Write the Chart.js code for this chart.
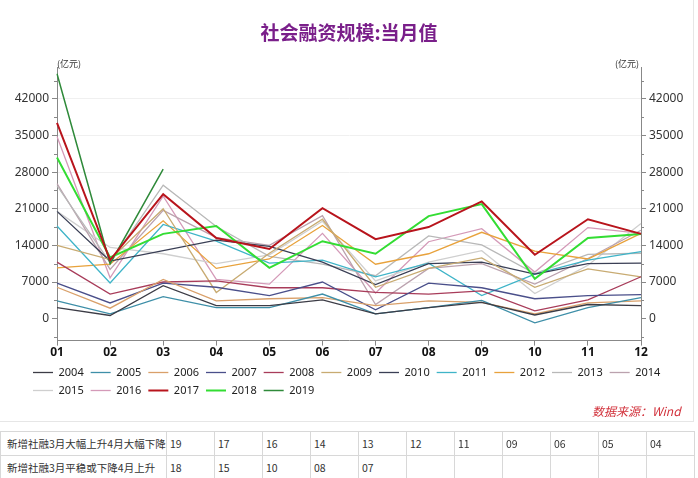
<!DOCTYPE html>
<html><head><meta charset="utf-8">
<script src="https://cdn.jsdelivr.net/npm/chart.js@4/dist/chart.umd.min.js"></script>
<style>
html,body{margin:0;padding:0;background:#fff;width:698px;height:478px;overflow:hidden;font-family:"Noto Sans CJK SC","Noto Sans",sans-serif;}
#title{position:absolute;left:0;width:698px;top:18px;text-align:center;font-size:19px;font-weight:bold;color:#7a1f8a;line-height:28px;}
#wrap{position:absolute;left:0;top:0;width:698px;height:406px;}
#src{position:absolute;left:592px;top:403px;font-size:12px;font-style:italic;color:#d2323c;line-height:16px;}
#frame{position:absolute;left:0;top:0;width:693px;height:421px;border-right:1px solid #e6e6e6;border-bottom:1px solid #e6e6e6;}
table{position:absolute;left:0;top:431px;border-collapse:collapse;table-layout:fixed;width:694px;font-size:10.5px;color:#333;}
td{border:1px solid #d8d8d8;height:23px;padding:0 0 0 3px;white-space:nowrap;overflow:hidden;line-height:23px;}
td.lab{padding-left:6px;}
</style></head><body>
<div id="frame"></div>
<div id="wrap"><canvas id="c"></canvas></div>
<div id="title">社会融资规模:当月值</div>
<div id="src">数据来源：Wind</div>
<table id="tbl"><colgroup><col style="width:166px"><col span="11" style="width:48px"></colgroup><tbody></tbody></table>
<script>
// ---- data ----
const months = ['01','02','03','04','05','06','07','08','09','10','11','12'];
const yTickValues = [-3500,0,3500,7000,10500,14000,17500,21000,24500,28000,31500,35000,38500,42000,45500];
const yTickLabels = [0,7000,14000,21000,28000,35000,42000];
const years = ['2004','2005','2006','2007','2008','2009','2010','2011','2012','2013','2014','2015','2016','2017','2018','2019'];

const v2004 = [2100, 600, 6300, 2500, 2500, 3600, 900, 2100, 3100, 700, 2700, 2500];
const v2005 = [3400, 900, 4200, 2100, 2100, 4700, 900, 2100, 3500, -800, 2100, 4000];
const v2006 = [6000, 2000, 7500, 3400, 3800, 4000, 2500, 3400, 3100, 900, 3000, 3400];
const v2007 = [6800, 3000, 6800, 6000, 4400, 7000, 1700, 6800, 5900, 3800, 4400, 4600];
const v2008 = [10800, 4700, 7000, 7200, 5900, 5900, 5000, 4700, 5300, 1500, 3600, 8000];
const v2009 = [14000, 11300, 21000, 5000, 12500, 19000, 6000, 9600, 11600, 6000, 9500, 8000];
const v2010 = [20500, 11000, 13000, 15000, 13800, 10800, 6500, 10500, 10800, 8500, 10500, 10600];
const v2011 = [17700, 6800, 18000, 14800, 10600, 11200, 8000, 10600, 4400, 8500, 11200, 12800];
const v2012 = [9700, 10400, 18700, 9600, 11400, 17800, 10400, 12400, 16500, 12900, 11400, 16300];
const v2013 = [25400, 10700, 25500, 17600, 11900, 10400, 8200, 15800, 14100, 8600, 12300, 12500];
const v2014 = [25800, 9400, 20700, 15500, 14000, 19700, 2700, 9600, 10500, 6600, 11500, 16900];
const v2015 = [20500, 13600, 12400, 10500, 12200, 18600, 7200, 10800, 13000, 4800, 10200, 18200];
const v2016 = [34800, 7800, 23400, 7500, 6600, 16300, 4900, 14700, 17200, 8900, 17400, 16300];
const v2017 = [37400, 11200, 23800, 15400, 13300, 21100, 15200, 17500, 22400, 12200, 19000, 16200];
const v2018 = [30800, 11700, 16200, 17700, 9700, 14800, 12400, 19600, 21900, 7600, 15400, 16200];
const v2019 = [46800, 10500, 28600];

const tableRow1Label = '新增社融3月大幅上升4月大幅下降';
const tableRow1 = ['19','17','16','14','13','12','11','09','06','05','04'];
const tableRow2Label = '新增社融3月平稳或下降4月上升';
const tableRow2 = ['18','15','10','08','07','','','','','',''];

// ---- styling ----
const seriesValues = [v2004,v2005,v2006,v2007,v2008,v2009,v2010,v2011,v2012,v2013,v2014,v2015,v2016,v2017,v2018,v2019];
const colors = ['#3c3c46','#3e8fa8','#d9a06a','#4a4f8a','#a83c5a','#c8ab72','#3a3f55','#3fb4c8','#e8a23c','#b8b8b8','#bba2ae','#cfcfcf','#d49ab8','#b8141c','#33dd33','#2f8a3a'];
const widths = [1.3,1.3,1.3,1.3,1.3,1.3,1.3,1.3,1.3,1.3,1.3,1.3,1.3,2,2,1.5];
const orders = [1,1,1,1,1,1,1,1,1,1,1,1,1,0,0,0];

// table
const tb = document.querySelector('#tbl tbody');
[[tableRow1Label, tableRow1],[tableRow2Label, tableRow2]].forEach(([lab, vals]) => {
  const tr = document.createElement('tr');
  const th = document.createElement('td'); th.className = 'lab'; th.textContent = lab; tr.appendChild(th);
  vals.forEach(v => { const td = document.createElement('td'); td.textContent = v; tr.appendChild(td); });
  tb.appendChild(tr);
});

const extras = {
  id: 'extras',
  afterLayout(chart) {
    if (chart.legend) { chart.legend.left += 18; }
  },
  afterDraw(chart) {
    const {ctx, chartArea: a, scales} = chart;
    ctx.save();
    ctx.strokeStyle = '#888'; ctx.lineWidth = 1;
    yTickValues.forEach(v => {
      if (yTickLabels.includes(v)) return;
      const py = Math.round(scales.y.getPixelForValue(v)) + 0.5;
      ctx.beginPath();
      ctx.moveTo(a.left - 3, py); ctx.lineTo(a.left, py);
      ctx.moveTo(a.right, py); ctx.lineTo(a.right + 3, py);
      ctx.stroke();
    });
    ctx.font = '9px "Noto Sans CJK SC"'; ctx.fillStyle = '#333';
    ctx.textBaseline = 'bottom';
    ctx.textAlign = 'left'; ctx.fillText('(亿元)', a.left, a.top + 1);
    ctx.textAlign = 'right'; ctx.fillText('(亿元)', a.right - 2, a.top + 1);
    ctx.restore();
  }
};

const yScale = (pos, w) => ({
  position: pos,
  min: -4200, max: 48100,
  afterBuildTicks: (s) => { s.ticks = yTickValues.map(v => ({value: v})); },
  afterFit: (s) => { s.width = w; },
  border: {display: true, color: '#888', width: 1},
  grid: {
    drawOnChartArea: pos === 'left',
    color: (c) => (c.tick && yTickLabels.includes(c.tick.value) && c.tick.value !== 0) ? '#f0f0f0' : 'rgba(0,0,0,0)',
    tickColor: (c) => (c.tick && yTickLabels.includes(c.tick.value)) ? '#888' : 'rgba(0,0,0,0)',
    tickLength: 5
  },
  ticks: {
    autoSkip: false,
    padding: 3,
    color: '#333',
    font: {size: 12, family: '"Noto Sans","Noto Sans CJK SC"'},
    callback: (v) => yTickLabels.includes(v) ? String(v) : ''
  }
});

new Chart(document.getElementById('c'), {
  type: 'line',
  data: {
    labels: months,
    datasets: years.map((y, i) => ({
      label: y,
      data: seriesValues[i],
      borderColor: colors[i],
      backgroundColor: colors[i],
      borderWidth: widths[i],
      pointRadius: 0,
      tension: 0,
      fill: false,
      order: orders[i]
    }))
  },
  options: {
    responsive: true,
    maintainAspectRatio: false,
    animation: false,
    layout: {padding: {left: 8, right: 10, top: 67, bottom: 0}},
    scales: {
      x: {
        offset: false,
        border: {display: true, color: '#888'},
        grid: {drawOnChartArea: false, tickLength: 5, tickColor: '#888'},
        ticks: {autoSkip: false, maxRotation: 0, padding: 0, color: '#111', font: {size: 12, weight: 'bold', family: '"Noto Sans"'}}
      },
      y: yScale('left', 49),
      y2: yScale('right', 47)
    },
    plugins: {
      legend: {
        position: 'bottom',
        align: 'start',
        labels: {
          usePointStyle: true,
          pointStyle: 'line',
          pointStyleWidth: 20,
          padding: 7,
          color: '#222',
          font: {size: 11, family: '"Noto Sans"'},
          sort: (a, b) => a.datasetIndex - b.datasetIndex
        }
      },
      title: {display: false},
      tooltip: {enabled: false}
    }
  },
  plugins: [extras]
});
</script>
</body></html>
